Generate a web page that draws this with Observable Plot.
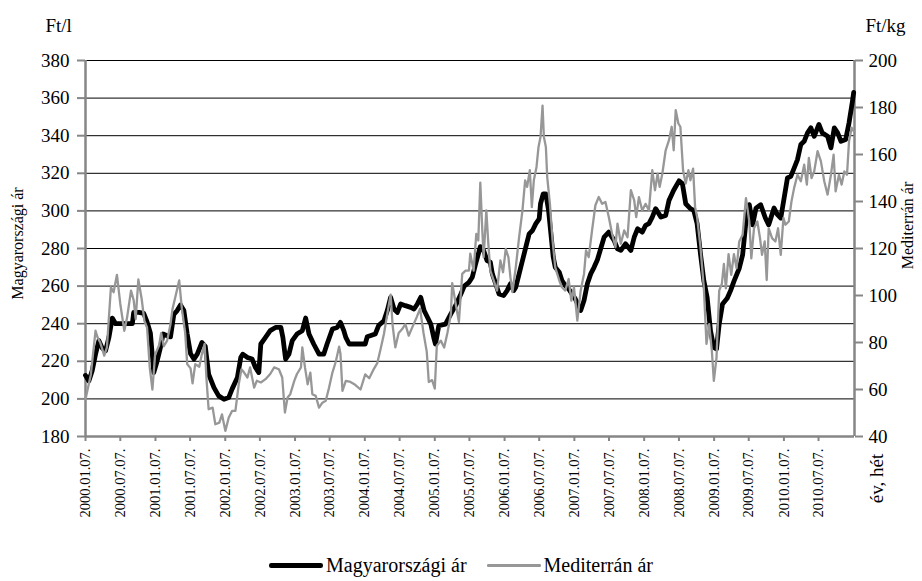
<!DOCTYPE html>
<html><head><meta charset="utf-8">
<script src="https://cdn.jsdelivr.net/npm/d3@7"></script>
<script src="https://cdn.jsdelivr.net/npm/@observablehq/plot@0.6"></script>
<style>
body{margin:0;background:#fff;font-family:"Liberation Serif","Times New Roman",serif;}
#legend{display:flex;justify-content:center;align-items:center;height:31px;font-size:20px;color:#000;}
.item{display:flex;align-items:center;}
.sw{display:inline-block;width:54px;margin-right:3px;}
</style></head><body>
<div id="chart"></div>
<div id="legend"></div>
<script>
// weeks since 2000.01.07., value
const startDate = "2000-01-07";
const seriesNames = ["Magyarországi ár", "Mediterrán ár"];
const leftTicks = [180,200,220,240,260,280,300,320,340,360,380];   // Ft/l
const rightTicks = [40,60,80,100,120,140,160,180,200];              // Ft/kg
const tickLabels = ["2000.01.07.","2000.07.07.","2001.01.07.","2001.07.07.","2002.01.07.","2002.07.07.","2003.01.07.","2003.07.07.","2004.01.07.","2004.07.07.","2005.01.07.","2005.07.07.","2006.01.07.","2006.07.07.","2007.01.07.","2007.07.07.","2008.01.07.","2008.07.07.","2009.01.07.","2009.07.07.","2010.01.07.","2010.07.07."];
const lastWeek = 574.6;

// Magyarországi ár (Ft/l), [week, value]
const hun = [[0,212.5],[2.5,209.5],[5,215],[7.5,223.8],[10,231],[12.5,227],[15,225.6],[17.5,232.7],[20,243],[22.5,240],[26,240],[30,240],[35,240],[36,246],[40,246],[43.5,245.5],[46,241],[48.5,235],[51,214],[53.5,220],[56,227.4],[58,234.5],[61,233.6],[63.5,233],[66,245],[68.5,247],[71,250],[73.5,247],[76,234.5],[78.5,224],[81,221.2],[83.5,223.8],[87,230],[89.5,228],[92,213.2],[96,206],[99.5,201.6],[103.5,199.8],[107,200.7],[109.5,205.2],[113.5,211.4],[116,222],[117.5,223.8],[121,222],[124.5,221.2],[127,216.7],[129.5,214],[131,229.2],[134.5,232.7],[138,236.3],[142,238],[146,238],[147.5,232.7],[149.5,221.2],[152,223.8],[154.5,231],[158,234.5],[162,236.3],[164.5,243],[167,234.5],[170.5,229.2],[174.5,223.8],[178,223.8],[180.5,229.2],[184.5,237.2],[188,238],[190.5,240.7],[193,236.3],[194.5,232.7],[197,229.2],[200,229.2],[205,229.2],[209,229.2],[210.5,233],[216.5,234.5],[219,239],[223,241.6],[225.5,247],[228,254],[230.5,247.8],[233,246],[235.5,250.5],[239,249.6],[243,248.7],[245.5,247.8],[248,250.5],[250.5,254],[253,247],[255.5,243.4],[258,239.8],[260.5,231.8],[261.5,229.2],[264,239],[269,239.8],[273,245.2],[276.5,249.6],[280.5,255.8],[283,260],[286.5,262],[289,264.7],[291.5,271.8],[293.5,277],[295,281],[297.5,279],[300,273.6],[302.5,272.7],[304,266.5],[306.5,261.2],[309,255.8],[312.5,255],[315,257.6],[317.5,261.2],[320,257.6],[321.5,259.4],[324,266.5],[326.5,273.6],[329,280.7],[331.5,287.8],[334,289.6],[336.5,293.2],[339,295.8],[340,303.8],[342,309],[344,309],[346,300.3],[347.5,289.6],[349.5,275.4],[351,270],[354,267.4],[356,263],[358.5,260.3],[361,258.5],[363.5,255.8],[366,253.2],[370,247],[372.5,252.3],[375,261.2],[377.5,266.5],[380,270],[382.5,274],[385,280],[387.5,286],[391,288.7],[395,284.3],[397.5,279.8],[400,279],[403.5,282.5],[407.5,279],[410,286],[412.5,290.5],[416,288.7],[418.5,292.3],[421,293.2],[423.5,296.7],[426,301.2],[430,296.7],[433.5,297.6],[436,305.6],[439.5,311],[443.5,316],[446,314.5],[448.5,303.8],[452,301.2],[454.5,300.3],[457,293.2],[459.5,277.2],[462,263],[464.5,254],[467,236.3],[469.5,227.4],[471.5,226.5],[473.5,239.8],[476,250.5],[479.5,253.5],[482,257.6],[484.5,262.5],[488.5,269.5],[491,276.6],[493.5,294.4],[496,303.3],[498.5,292.6],[501,301.5],[504.5,303.3],[508,296.2],[510.5,292.6],[514.5,301.5],[517,298],[519.5,296.2],[522,306.8],[524.5,317.5],[527,318.4],[529.5,322.8],[532,327.3],[534.5,335.3],[537,337],[539.5,341.5],[542,344.2],[544.5,339.7],[548,346],[550.5,341.5],[554.5,339.7],[557,333.5],[559.5,344.2],[562,341.5],[564.5,337],[568,338],[570.5,346.8],[573,358],[574,363]];

// Mediterrán ár (Ft/kg), [week, value]
const med = [[0,55.8],[4,66.4],[7.5,85],[9,82.2],[11,80],[14,74.4],[16,77.9],[19,103.5],[21,101.4],[23.5,108.8],[26,96.4],[29,85],[31,90.4],[34,102.1],[36,98],[37.5,90],[39.5,106.8],[42,98.4],[44,89.2],[46,86.4],[48,69.4],[50,60],[52,74.8],[55,78.8],[56.5,84],[58.5,78.4],[61,80.8],[63.5,87.8],[65,94.2],[67,99],[70,106.4],[72,94.4],[74.5,84],[76,70.8],[78.5,69],[80,62.6],[82,70.8],[85,69.7],[87,75.2],[89,79.4],[90.5,63.7],[92,51.6],[95,52.3],[97,45.2],[100,45.9],[102,49.4],[104.5,42.4],[107,48],[109.5,50.9],[112,50.9],[114.5,62.2],[116.5,68.6],[118.5,67.2],[121,65.1],[123,69.4],[126,60.8],[128,63.7],[131,63],[134.5,64.4],[138,66.6],[141,69.4],[144.5,68.6],[147,65.1],[149,50.2],[151,56.6],[153,58],[156,63.7],[158,66.6],[161,69.4],[162,77.9],[164,69.4],[166,62.2],[168,67.2],[169.5,58],[172,57.3],[174.5,52.3],[177,54.4],[179.5,55.2],[182,60.8],[184.5,67.2],[187,71.8],[189.5,78.2],[190.5,75.2],[192,59.4],[194.5,63.7],[198,63.2],[201.5,62],[205.5,60],[209,66.4],[212,64.8],[215.5,68.8],[218,71.2],[220.5,77.2],[223,83.6],[225.5,92.2],[228,100.4],[229.5,87.2],[231.5,77.9],[234,84],[236.5,85.6],[239,87.8],[241.5,82.9],[243.5,85.6],[247.5,90.8],[250,94.4],[252.5,84.3],[255,76],[256.5,63.2],[259,64],[261,60.4],[262.5,78.6],[265.5,80.8],[268,77.9],[270.5,84.3],[273,92],[274,105.3],[276.5,96.8],[279,88.8],[281.5,109.2],[284,110.6],[286.5,110.6],[287.5,117.8],[290,110.6],[292,126.2],[293.5,123.4],[295,148],[296.5,127.7],[297.5,116.3],[299.5,136.2],[301,122],[302.5,110.6],[305,106.4],[307.5,102.1],[310,114.9],[312,109.9],[314,119.8],[316,116.3],[317.5,107.8],[319,101.4],[321.5,112],[324,124.8],[326.5,136.2],[328.5,149],[330,146.2],[332,153.3],[333.5,137.6],[335,149],[337,154.7],[338.5,163.2],[340,167.5],[341.5,180.8],[342.5,167.5],[344,163.2],[345,150.4],[347,139],[349,123.4],[351,112],[354,106.4],[356,103.5],[358.5,102.1],[361,107],[363,97.8],[365,103.5],[367.5,89.3],[370,102.1],[372.5,109.2],[374,119.2],[376,116.3],[378.5,127.7],[381,138.4],[383.5,141.9],[386,139],[388.5,139.8],[391,133.4],[393.5,126.2],[396,120.6],[397.5,130.6],[400,122],[402.5,127.7],[405,124.8],[407.5,144.8],[410,140.5],[411.5,133.4],[413.5,141.9],[416,136.2],[418.5,139],[421,136.2],[423.5,153.3],[425.5,144.8],[427.5,151.8],[429,146.2],[431,151.8],[433.5,161.8],[436,166.1],[438,171.8],[439.5,161.8],[441,178.9],[443,173.2],[444.5,171.8],[446.5,153.3],[448.5,147.6],[450.5,153.3],[452,149],[454,154],[455.5,137.6],[457,133.4],[459.5,120.6],[462,103.5],[464,79.4],[466,87.8],[468,76.5],[469.5,63.7],[471.5,73.6],[473.5,102.1],[475.5,105],[477,113.4],[478.5,103],[480.5,117.6],[482.5,108.8],[484.5,117.6],[486.5,111.6],[488.5,123],[491,125.8],[493.5,141.4],[496,131.5],[497.5,115.8],[499.5,128.6],[502,131.5],[504,124.4],[505.5,117.3],[507.5,123],[509,106.6],[510.5,128.6],[513,124.4],[515.5,123],[517.5,128.6],[519.5,117.3],[521.5,133],[523,130.1],[525.5,131.5],[527.5,140],[529.5,145.8],[532,151.4],[534.5,148.6],[537,155.7],[539,147.2],[540.5,158.6],[542.5,150],[544.5,152.8],[547,161.4],[549.5,157.1],[552,148.6],[554.5,142.9],[557,151.4],[559,159.9],[560.5,144.3],[563,151.4],[565,147.2],[567,152.8],[569,151.4],[570.5,165.6],[572.5,171.4],[574,169.9]];

const t0 = Date.parse(startDate + "T00:00:00Z");
const toDate = w => new Date(t0 + w * 7 * 864e5);
// secondary axis (Ft/kg 40..200) mapped onto primary (Ft/l 180..380)
const toLeft = r => 180 + (r - 40) * 1.25;
const toRight = l => Math.round(40 + (l - 180) * 0.8);

const hunData = hun.map(([w, v]) => ({date: toDate(w), value: v}));
const medData = med.map(([w, v]) => ({date: toDate(w), value: toLeft(v)}));
const xTicks = tickLabels.map(s => new Date(Date.UTC(+s.slice(0,4), +s.slice(5,7) - 1, +s.slice(8,10))));
const fmtX = d => tickLabels[xTicks.findIndex(t => +t === +d)];

const gridGray = "#868686";
const medGray = "#979797";
const serif = "'Liberation Serif','Times New Roman',serif";

const chart = Plot.plot({
  width: 922, height: 550,
  marginLeft: 85, marginRight: 68, marginTop: 60, marginBottom: 114,
  style: {fontFamily: serif, fontSize: "19px", color: "#000", background: "#fff", overflow: "visible"},
  x: {type: "utc", domain: [toDate(0), toDate(lastWeek)]},
  y: {domain: [180, 380]},
  marks: [
    Plot.ruleY(leftTicks.filter(d => d > 180), {stroke: "#000", strokeWidth: 1}),
    Plot.axisY({anchor: "left", ticks: leftTicks, tickSize: 8, tickPadding: 8, stroke: gridGray, strokeWidth: 2, fill: "#000", fontSize: 19, fontFamily: serif, label: null}),
    Plot.axisY({anchor: "right", ticks: rightTicks.map(toLeft), tickFormat: toRight, tickSize: 8, tickPadding: 6, stroke: gridGray, strokeWidth: 2, fill: "#000", fontSize: 19, fontFamily: serif, label: null}),
    Plot.axisX({ticks: xTicks, tickFormat: fmtX, tickRotate: -90, tickSize: 5, tickPadding: 7, stroke: gridGray, strokeWidth: 2, fill: "#000", fontSize: 14.5, fontFamily: serif, label: null}),
    Plot.ruleX([toDate(0)], {stroke: gridGray, strokeWidth: 2.5}),
    Plot.ruleX([toDate(lastWeek)], {stroke: gridGray, strokeWidth: 2.5}),
    Plot.ruleY([180], {stroke: gridGray, strokeWidth: 2.5}),
    Plot.line(hunData, {x: "date", y: "value", stroke: "#000", strokeWidth: 4.8, strokeLinejoin: "round"}),
    Plot.line(medData, {x: "date", y: "value", stroke: medGray, strokeWidth: 2.3, strokeLinejoin: "round"}),
    Plot.text(["Ft/l"], {text: d => d, frameAnchor: "top-left", dx: -40, dy: -35, textAnchor: "start", lineAnchor: "middle", fontSize: 19}),
    Plot.text(["Ft/kg"], {text: d => d, frameAnchor: "top-right", dx: 11, dy: -35, textAnchor: "start", lineAnchor: "middle", fontSize: 19}),
    Plot.text([seriesNames[0]], {text: d => d, frameAnchor: "top-left", dx: -68, dy: 183, rotate: -90, textAnchor: "middle", lineAnchor: "middle", fontSize: 16}),
    Plot.text([seriesNames[1]], {text: d => d, frameAnchor: "top-right", dx: 53, dy: 165, rotate: -90, textAnchor: "middle", lineAnchor: "middle", fontSize: 16}),
    Plot.text(["év, hét"], {text: d => d, frameAnchor: "bottom-right", dx: 22, dy: 42, rotate: -90, textAnchor: "middle", lineAnchor: "middle", fontSize: 19})
  ]
});
document.getElementById("chart").appendChild(chart);

const legend = document.getElementById("legend");
[[seriesNames[0], "#000", 4.5], [seriesNames[1], medGray, 2.5]].forEach(([name, color, w], i) => {
  const item = document.createElement("span");
  item.className = "item";
  if (i > 0) item.style.marginLeft = "20px";
  const sw = document.createElement("span");
  sw.className = "sw";
  sw.style.height = w + "px";
  sw.style.background = color;
  sw.style.borderRadius = (w / 2) + "px";
  item.appendChild(sw);
  item.appendChild(document.createTextNode(name));
  legend.appendChild(item);
});
</script></body></html>
